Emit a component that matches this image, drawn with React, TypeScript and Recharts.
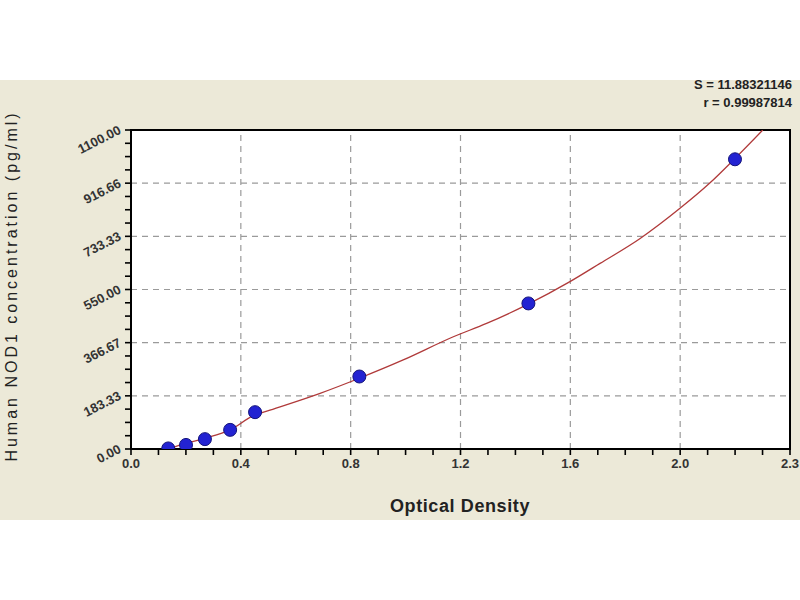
import React from 'react';
import { ComposedChart, XAxis, YAxis, Line, Scatter, ReferenceLine, ReferenceArea } from 'recharts';

const pointX = [0.13, 0.192, 0.258, 0.346, 0.433, 0.797, 1.387, 2.108];
const pointY = [2, 14, 34, 66, 127, 250, 502, 999];

const curveX = [0.13, 0.194, 0.258, 0.346, 0.427, 0.485, 0.66, 0.797, 0.95, 1.125, 1.241, 1.381, 1.532, 1.637, 1.777, 1.916, 2.021, 2.102, 2.205];
const curveY = [0, 20, 37, 66, 115, 134, 192, 244, 307, 387, 433, 497, 577, 640, 726, 830, 918, 996, 1100];

const xTickLabels = ['0.0', '0.4', '0.8', '1.2', '1.6', '2.0', '2.3'];
const yTickLabels = ['0.00', '183.33', '366.67', '550.00', '733.33', '916.66', '1100.00'];

const X_MAX = 2.3;
const Y_MAX = 1100;

const points = pointX.map((x, i) => ({ x, y: pointY[i] }));
const curve = curveX.map((x, i) => ({ x, y: curveY[i] }));

const xTicks = Array.from({ length: 25 }, (_, i) => (X_MAX * i) / 24);
const yTicks = Array.from({ length: 25 }, (_, i) => (Y_MAX * i) / 24);
const xMajor = Array.from({ length: 5 }, (_, i) => (X_MAX * (i + 1)) / 6);
const yMajor = Array.from({ length: 5 }, (_, i) => (Y_MAX * (i + 1)) / 6);

const FONT = '"Liberation Sans", Arial, sans-serif';

const XTick = (props: any) => {
  const { x, y, index } = props;
  const major = index % 4 === 0;
  return (
    <g>
      <line x1={x} y1={y - 6} x2={x} y2={y} stroke="#000" strokeWidth={1.6} />
      {major && (
        <text x={x} y={y + 13} textAnchor="middle" fontFamily={FONT} fontSize={13} fontWeight="bold" fill="#333">
          {xTickLabels[index / 4]}
        </text>
      )}
    </g>
  );
};

const YTick = (props: any) => {
  const { x, y, index } = props;
  const major = index % 4 === 0;
  const ax = x - 3;
  const ay = y + 3;
  return (
    <g>
      <line x1={x} y1={y} x2={x + 6} y2={y} stroke="#000" strokeWidth={1.6} />
      {major && (
        <text x={ax} y={ay} textAnchor="end" fontFamily={FONT} fontSize={13} fontWeight="bold" fill="#333" transform={`rotate(-27, ${ax}, ${ay})`}>
          {yTickLabels[index / 4]}
        </text>
      )}
    </g>
  );
};

const Marker = (props: any) => {
  const { cx, cy } = props;
  return <circle cx={cx} cy={cy} r={6.5} fill="#2323d2" stroke="#14147a" strokeWidth={1} />;
};

export default function App() {
  return (
    <div style={{ position: 'absolute', left: 0, top: 0, width: 800, height: 600, background: '#ffffff', overflow: 'hidden' }}>
      <div style={{ position: 'absolute', left: 0, top: 80, width: 800, height: 440, background: '#ece9d8' }} />
      <div style={{ position: 'absolute', right: 8, top: 76, textAlign: 'right', fontFamily: FONT, fontSize: 13, fontWeight: 'bold', color: '#222', lineHeight: '18px', letterSpacing: 0 }}>
        <div>S = 11.88321146</div>
        <div>r = 0.99987814</div>
      </div>
      <div style={{ position: 'absolute', left: 360, top: 496, width: 200, textAlign: 'center', fontFamily: FONT, fontSize: 18, fontWeight: 'bold', color: '#222', letterSpacing: 0.6, whiteSpace: 'nowrap' }}>
        Optical Density
      </div>
      <div style={{ position: 'absolute', left: 12, top: 286, width: 0, height: 0 }}>
        <div style={{ position: 'absolute', left: 0, top: 0, transform: 'translate(-50%, -50%) rotate(-90deg)', fontFamily: FONT, fontSize: 16, color: '#222', whiteSpace: 'nowrap', letterSpacing: 3 }}>
          Human NOD1 concentration (pg/ml)
        </div>
      </div>
      <div style={{ position: 'absolute', left: 0, top: 0 }}>
        <ComposedChart width={800} height={600} margin={{ top: 130, right: 10, bottom: 121, left: 71 }}>
          <XAxis
            type="number"
            dataKey="x"
            domain={[0, X_MAX]}
            ticks={xTicks}
            interval={0}
            height={30}
            allowDataOverflow
            tick={<XTick />}
            tickSize={6}
            tickMargin={0}
            tickLine={false}
            axisLine={{ stroke: '#000', strokeWidth: 2 }}
          />
          <YAxis
            type="number"
            dataKey="y"
            domain={[0, Y_MAX]}
            ticks={yTicks}
            interval={0}
            width={60}
            allowDataOverflow
            tick={<YTick />}
            tickSize={6}
            tickMargin={0}
            tickLine={false}
            axisLine={{ stroke: '#000', strokeWidth: 2 }}
          />
          <ReferenceArea x1={0} x2={X_MAX} y1={0} y2={Y_MAX} fill="#ffffff" fillOpacity={1} stroke="none" />
          {xMajor.map((v) => (
            <ReferenceLine key={'gx' + v} x={v} stroke="#9a9a9a" strokeWidth={1.2} strokeDasharray="6 5" />
          ))}
          {yMajor.map((v) => (
            <ReferenceLine key={'gy' + v} y={v} stroke="#9a9a9a" strokeWidth={1.2} strokeDasharray="6 5" />
          ))}
          <Line data={curve} dataKey="y" type="monotone" stroke="#b03a3a" strokeWidth={1.3} dot={false} isAnimationActive={false} />
          <Scatter data={points} dataKey="y" shape={<Marker />} isAnimationActive={false} />
          <ReferenceArea x1={0} x2={X_MAX} y1={0} y2={Y_MAX} fill="none" stroke="#000" strokeWidth={2} />
        </ComposedChart>
      </div>
    </div>
  );
}
